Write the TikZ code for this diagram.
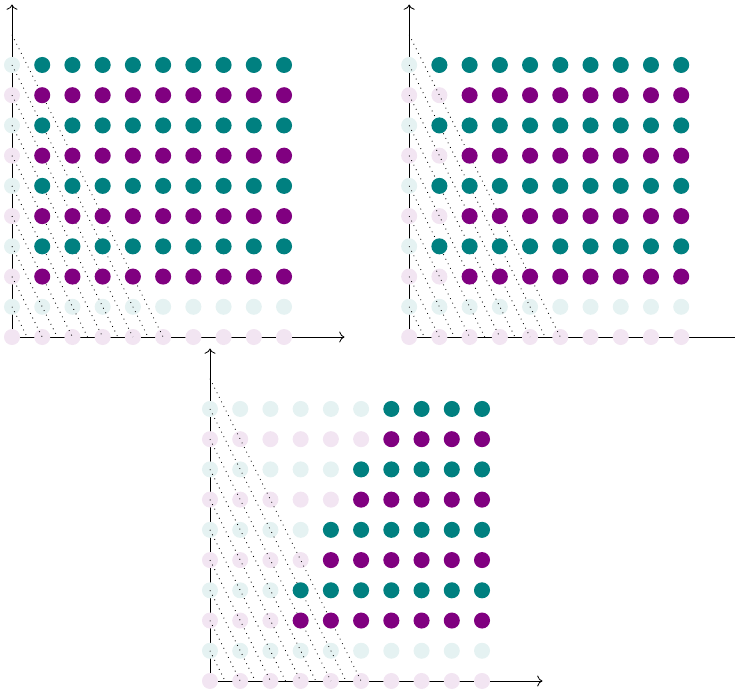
\documentclass[tikz,border=0pt]{standalone}
\usepackage{tikz}
\usepackage{xcolor}
\usetikzlibrary{calc,arrows.meta}
\definecolor{rowteal}{RGB}{0,128,128}
\definecolor{rowpurple}{RGB}{128,0,128}

% one lattice panel: #1 origin, #2 first full column as a function of \y
\newcommand{\latticepanel}[2]{%
  \begin{scope}[shift={#1}]
    \coordinate (O) at (0,0);
    \coordinate (X) at (11,0);
    \coordinate (Y) at (0,11);
    \draw[axis] (O) -- (X);
    \draw[axis] (O) -- (Y);
    \foreach \y in {0,...,9}{
      \ifodd\y\relax\def\dotcol{rowteal}\else\def\dotcol{rowpurple}\fi
      \foreach \x in {0,...,9}
        \fill[\dotcol!10] (\x,\y) circle (\dotr);
    }
    \foreach \n in {1,...,10}
      \draw[cutline] (0,\n) -- (\n/2,0);
    \foreach \y in {2,...,9}{
      \ifodd\y\relax\def\dotcol{rowteal}\else\def\dotcol{rowpurple}\fi
      \pgfmathtruncatemacro{\xfirst}{#2}
      \foreach \x in {\xfirst,...,9}
        \fill[\dotcol] (\x,\y) circle (\dotr);
    }
  \end{scope}}
\newcommand{\dotr}{0.265}

\begin{document}
\begin{tikzpicture}[x=0.5cm, y=0.5cm,
  axis/.style={-{To}},
  cutline/.style={dotted}]
\useasboundingbox (-0.397,-11.71) rectangle (23.92,11.15);

\latticepanel{(0,0)}{1}
\latticepanel{(13.14,0)}{2-mod(\y,2)}
\latticepanel{(6.55,-11.38)}{2+floor(\y/2)}
\end{tikzpicture}
\end{document}
